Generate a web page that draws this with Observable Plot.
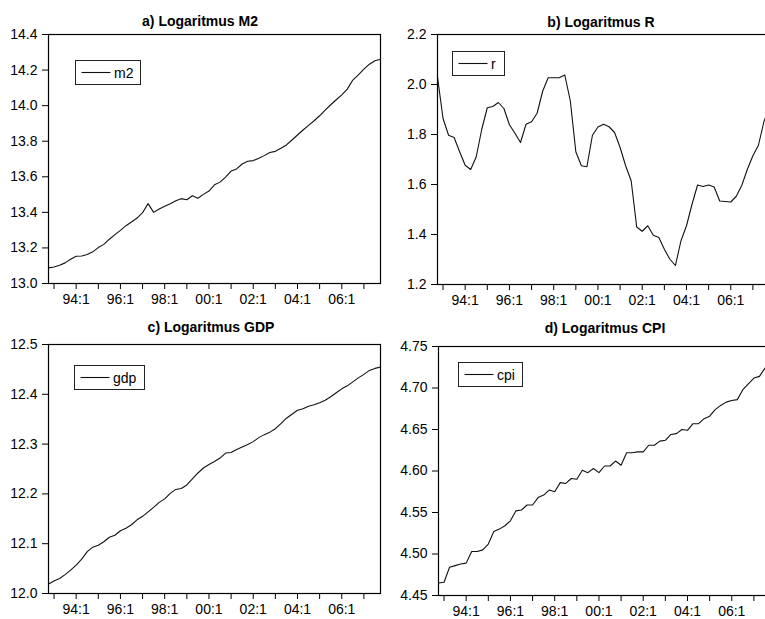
<!DOCTYPE html>
<html>
<head>
<meta charset="utf-8">
<script src="https://cdn.jsdelivr.net/npm/d3@7"></script>
<script src="https://cdn.jsdelivr.net/npm/@observablehq/plot@0.6"></script>
<style>
  html, body { margin: 0; padding: 0; background: #fff; overflow: hidden; }
  #chart { position: relative; width: 765px; height: 619px; overflow: hidden;
           font-family: "Liberation Sans", Arial, Helvetica, sans-serif; }
  #chart svg { position: absolute; overflow: visible; }
</style>
</head>
<body>
<div id="chart"></div>
<script>
// Quarterly observations, 1992:4 through 2007:4
const firstYear = 1992;
const firstQuarter = 4;

// log M2
const m2 = [13.088, 13.093, 13.103, 13.116, 13.136, 13.153, 13.155, 13.163, 13.178, 13.202,
            13.220, 13.249, 13.275, 13.299, 13.325, 13.346, 13.368, 13.398, 13.449, 13.400,
            13.419, 13.434, 13.449, 13.465, 13.477, 13.471, 13.493, 13.479, 13.501, 13.520,
            13.555, 13.570, 13.598, 13.632, 13.644, 13.672, 13.687, 13.691, 13.704, 13.719,
            13.737, 13.743, 13.760, 13.779, 13.807, 13.835, 13.863, 13.889, 13.915, 13.943,
            13.975, 14.005, 14.033, 14.061, 14.093, 14.144, 14.173, 14.205, 14.233, 14.252,
            14.261];

// log R
const r = [2.030, 1.864, 1.797, 1.788, 1.731, 1.677, 1.660, 1.711, 1.821, 1.907,
           1.912, 1.928, 1.904, 1.839, 1.805, 1.768, 1.841, 1.851, 1.885, 1.973,
           2.027, 2.027, 2.027, 2.038, 1.935, 1.731, 1.675, 1.671, 1.797, 1.830,
           1.841, 1.831, 1.808, 1.748, 1.675, 1.615, 1.430, 1.413, 1.435, 1.397,
           1.388, 1.341, 1.301, 1.276, 1.375, 1.435, 1.521, 1.598, 1.592, 1.598,
           1.590, 1.534, 1.532, 1.530, 1.553, 1.597, 1.661, 1.715, 1.757, 1.852,
           1.910];

// log GDP
const gdp = [12.019, 12.025, 12.030, 12.038, 12.047, 12.057, 12.069, 12.084, 12.093, 12.097,
             12.104, 12.113, 12.117, 12.126, 12.131, 12.138, 12.148, 12.155, 12.164, 12.173,
             12.183, 12.190, 12.201, 12.209, 12.211, 12.218, 12.230, 12.242, 12.252, 12.259,
             12.265, 12.272, 12.282, 12.283, 12.289, 12.294, 12.299, 12.305, 12.313, 12.319,
             12.324, 12.331, 12.341, 12.352, 12.360, 12.368, 12.371, 12.376, 12.379, 12.383,
             12.388, 12.395, 12.403, 12.411, 12.417, 12.425, 12.433, 12.440, 12.448, 12.452,
             12.455];

// log CPI
const cpi = [4.465, 4.466, 4.484, 4.486, 4.488, 4.489, 4.503, 4.503, 4.505, 4.512,
             4.527, 4.530, 4.534, 4.540, 4.552, 4.553, 4.559, 4.559, 4.568, 4.571,
             4.577, 4.575, 4.586, 4.585, 4.591, 4.590, 4.601, 4.598, 4.603, 4.598,
             4.606, 4.606, 4.612, 4.607, 4.622, 4.622, 4.623, 4.623, 4.631, 4.631,
             4.636, 4.637, 4.644, 4.645, 4.650, 4.649, 4.657, 4.657, 4.663, 4.666,
             4.674, 4.679, 4.683, 4.685, 4.686, 4.698, 4.705, 4.712, 4.714, 4.724,
             4.723];

// Axis ticks: one tick each first quarter, labelled every second year
const xTickYears = [1993, 1994, 1995, 1996, 1997, 1998, 1999, 2000, 2001, 2002, 2003, 2004, 2005, 2006, 2007];
const xLabelYears = [1994, 1996, 1998, 2000, 2002, 2004, 2006];
const xLabels = ["94:1", "96:1", "98:1", "00:1", "02:1", "04:1", "06:1"];

const m2Ticks = [13.0, 13.2, 13.4, 13.6, 13.8, 14.0, 14.2, 14.4];
const rTicks = [1.2, 1.4, 1.6, 1.8, 2.0, 2.2];
const gdpTicks = [12.0, 12.1, 12.2, 12.3, 12.4, 12.5];
const cpiTicks = [4.45, 4.50, 4.55, 4.60, 4.65, 4.70, 4.75];

const titles = ["a) Logaritmus M2", "b) Logaritmus R", "c) Logaritmus GDP", "d) Logaritmus CPI"];
const seriesNames = ["m2", "r", "gdp", "cpi"];

// Time position of each observation (fractional year)
const time = m2.map((_, i) => {
  const q = firstQuarter - 1 + i;
  return firstYear + Math.floor(q / 4) + (q % 4) / 4;
});
const labelOf = new Map(xLabelYears.map((y, i) => [y, xLabels[i]]));

const FONT = "'Liberation Sans', Arial, Helvetica, sans-serif";
const ML = 50, MR = 4, MT = 40, MB = 32, FW = 332;

const panels = [
  {values: m2,  ticks: m2Ticks,  fmt: ".1f", left: 48,  top: 34,  h: 249, titleX: 200, titleY: 26,
   legend: {dx: 27, dy: 26, w: 65}},
  {values: r,   ticks: rTicks,   fmt: ".1f", left: 437, top: 34,  h: 250, titleX: 601, titleY: 27,
   legend: {dx: 15, dy: 17, w: 52}},
  {values: gdp, ticks: gdpTicks, fmt: ".1f", left: 48,  top: 344, h: 249, titleX: 211, titleY: 332,
   legend: {dx: 26, dy: 21, w: 70}},
  {values: cpi, ticks: cpiTicks, fmt: ".2f", left: 438, top: 346, h: 249, titleX: 605, titleY: 333,
   legend: {dx: 20, dy: 16, w: 64}}
];

const chart = document.getElementById("chart");

panels.forEach((p, k) => {
  const ticks = p.ticks;
  const svg = Plot.plot({
    width: ML + FW + MR,
    height: MT + p.h + MB,
    marginLeft: ML, marginRight: MR, marginTop: MT, marginBottom: MB,
    style: {fontFamily: FONT, fontSize: "14px", color: "#000", background: "transparent", overflow: "visible"},
    x: {domain: [time[0], time[time.length - 1]]},
    y: {domain: [ticks[0], ticks[ticks.length - 1]]},
    marks: [
      Plot.axisY({ticks, tickFormat: d3.format(p.fmt), tickSize: 6, tickPadding: 5,
                  fontSize: 14, label: null, stroke: "#000"}),
      Plot.axisX({ticks: xTickYears, tickFormat: d => labelOf.get(d) ?? "", tickSize: 6, tickPadding: 5,
                  fontSize: 14, label: null, stroke: "#000"}),
      Plot.line(p.values, {x: (d, i) => time[i], y: d => d, stroke: "#111", strokeWidth: 1.1}),
      Plot.frame({stroke: "#000", strokeWidth: 1.2})
    ]
  });
  const ox = p.left - ML, oy = p.top - MT;
  svg.style.left = ox + "px";
  svg.style.top = oy + "px";

  const s = d3.select(svg);
  s.append("text")
    .attr("x", p.titleX - ox)
    .attr("y", p.titleY - oy)
    .attr("text-anchor", "middle")
    .attr("font-family", FONT)
    .attr("font-size", 14)
    .attr("font-weight", "bold")
    .attr("fill", "#000")
    .text(titles[k]);

  const g = s.append("g").attr("transform", `translate(${ML + p.legend.dx},${MT + p.legend.dy})`);
  g.append("rect").attr("x", 0.5).attr("y", 0.5).attr("width", p.legend.w).attr("height", 24)
    .attr("fill", "#fff").attr("stroke", "#222").attr("stroke-width", 1);
  g.append("line").attr("x1", 6.5).attr("x2", 35.5).attr("y1", 12.5).attr("y2", 12.5)
    .attr("stroke", "#111").attr("stroke-width", 1.1);
  g.append("text").attr("x", 39).attr("y", 17.5)
    .attr("text-anchor", "start")
    .attr("font-family", FONT).attr("font-size", 14).attr("fill", "#000")
    .text(seriesNames[k]);

  chart.appendChild(svg);
});
</script>
</body>
</html>
